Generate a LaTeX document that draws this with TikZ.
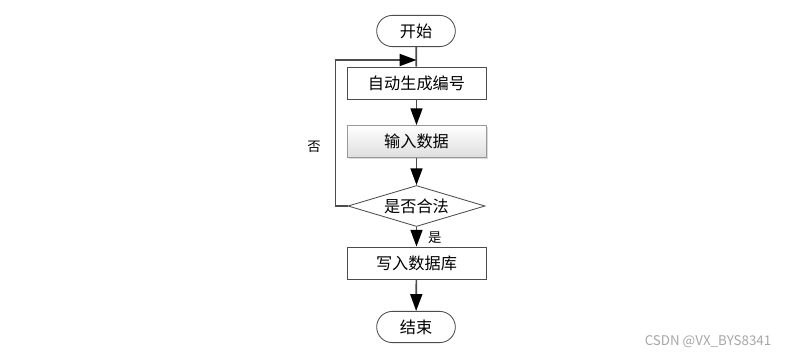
\documentclass[tikz,border=0pt]{standalone}
\usepackage{fontspec}
\setmainfont{Noto Sans CJK SC}
\usetikzlibrary{shapes.geometric,shapes.misc,arrows.meta,shadows}
\tikzset{
  terminal/.style={rounded rectangle, draw=black!70, line width=0.6pt, minimum width=2.2cm, minimum height=0.78cm, font=\fontsize{11.5}{13}\selectfont},
  procbox/.style={rectangle, draw=black!70, line width=0.6pt, minimum width=3.475cm, minimum height=0.8cm, font=\fontsize{11.5}{13}\selectfont},
  shadedbox/.style={procbox, draw=black!40, top color=white, bottom color=black!13, drop shadow={shadow xshift=0.04cm, shadow yshift=-0.04cm, opacity=0.3}},
  decision/.style={diamond, draw=black!70, line width=0.6pt, minimum width=3.425cm, minimum height=1.025cm, aspect=3.34, inner sep=0pt, font=\fontsize{11.5}{13}\selectfont},
  plainline/.style={line width=1.2pt, draw=black!70},
  flow/.style={plainline, -{Triangle[width=0.3cm,length=0.42cm,color=black]}},
  branchlabel/.style={font=\fontsize{9.5}{11}\selectfont},
}

\begin{document}
\begin{tikzpicture}[x=0.025cm, y=-0.025cm]
\useasboundingbox (0,0) rectangle (801,358);
\node[terminal] (start) at (416,31) {开始};
\node[procbox] (genid) at (416.5,83) {自动生成编号};
\node[shadedbox] (input) at (416.5,141.5) {输入数据};
\node[decision] (check) at (416.5,206) {是否合法};
\node[procbox] (write) at (416.5,263) {写入数据库};
\node[terminal] (finish) at (416,327) {结束};
\coordinate (loopin) at (416.5,60);
\draw[plainline] (start) -- (genid);
\draw[flow] (genid) -- (input);
\draw[flow] (input) -- (check);
\draw[flow] (check) -- node[branchlabel, right, xshift=0.15cm, yshift=-0.02cm] (yeslabel) {是} (write);
\draw[flow] (write) -- (finish);
\draw[flow] (check.west) -- ++(-12,0) |- (loopin);
\node[branchlabel] (nolabel) at (314,147) {否};
\node[font=\fontsize{9.5}{11}\selectfont, text=black!35] (mark) at (708,342) {CSDN @VX\_BYS8341};
\end{tikzpicture}
\end{document}
